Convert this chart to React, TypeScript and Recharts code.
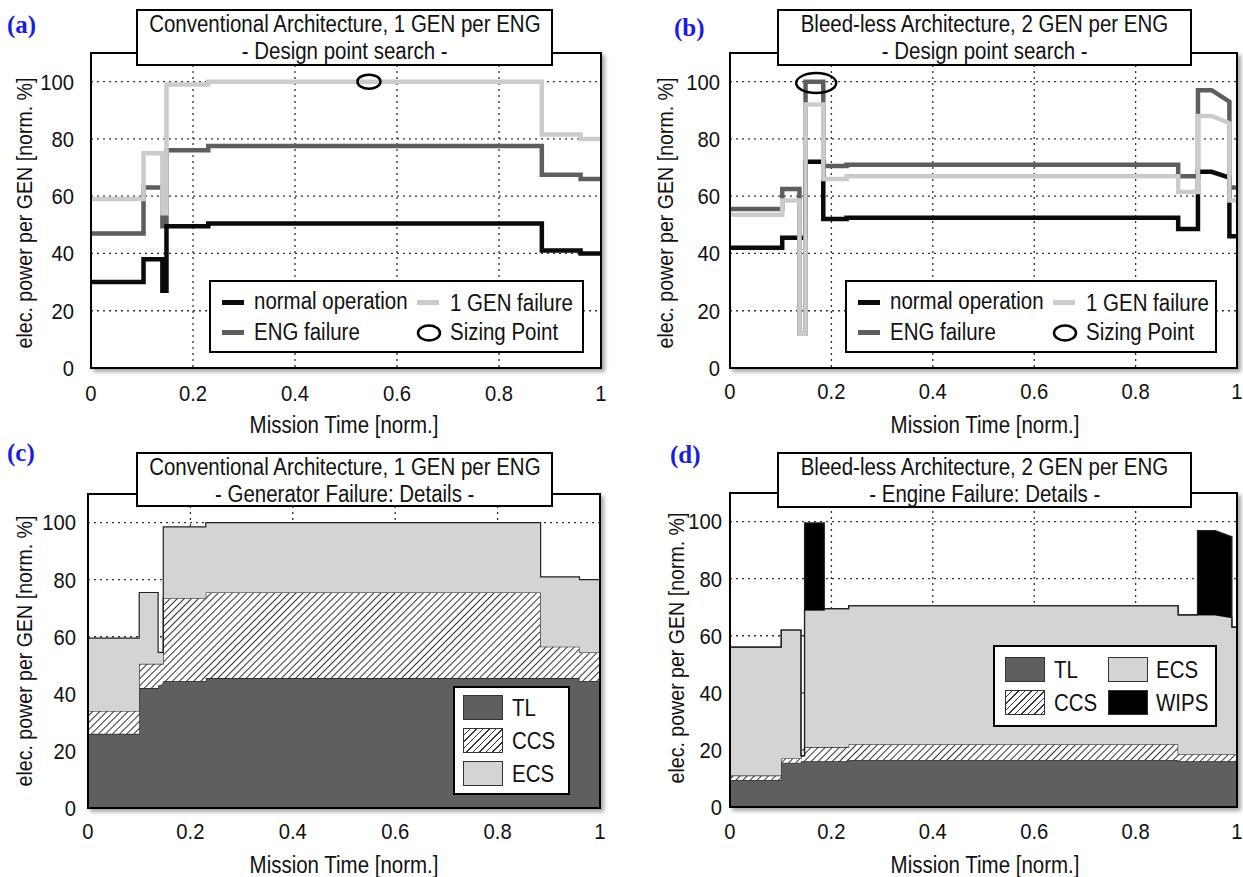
import { Area, CartesianGrid, ComposedChart, Line, Scatter, XAxis, YAxis } from "recharts";

type Seg = number | [number, number];

// (a) conventional architecture, design point search
const aX = [0, 0.103, 0.14, 0.148, 0.23, 0.884, 0.96, 1];
const aNormal: Seg[] = [30, 38, 27, 49.5, 50.5, 41, 40];
const aGen: Seg[] = [59, 75, 54, 99, 100, 81.5, 80];
const aEng: Seg[] = [47, 63, 49.5, 76, 77.5, 67.5, 66];
const aSizing = [{ x: 0.545, y: 100 }];

// (b) bleed-less architecture, design point search
const bX = [0, 0.103, 0.137, 0.149, 0.184, 0.23, 0.884, 0.923, 0.95, 0.985, 1];
const bNormal: Seg[] = [42, 45.5, 45.5, 72, 52, 52.5, 48.5, 68.5, [68.5, 66.5], 46];
const bGen: Seg[] = [53.5, 58.5, 12, 92, 66, 67, 61.5, 88, [88, 85.5], 58.5];
const bEng: Seg[] = [55.5, 62.5, 12, 100, 70.5, 71, 67, 97, [97, 93], 63];
const bSizing = [{ x: 0.17, y: 99.5 }];

// (c) conventional, generator failure breakdown (stacked)
const cX = [0, 0.1, 0.137, 0.147, 0.23, 0.884, 0.96, 1];
const cTL: Seg[] = [26, 42, 43, 44.5, 45.5, 45.5, 44.5];
const cCCS: Seg[] = [8, 8.5, 7.5, 29, 30, 11, 10];
const cECS: Seg[] = [25.5, 25, 4, 25, 24.5, 24.5, 25.5];

// (d) bleed-less, engine failure breakdown (stacked)
const dX = [0, 0.101, 0.14, 0.147, 0.186, 0.234, 0.884, 0.922, 0.957, 0.99, 1];
const dTL: Seg[] = [9.5, 15.5, 16, 16, 16, 16.5, 16, 16, 16, 16];
const dCCS: Seg[] = [1.5, 1.5, 2, 5, 5, 5.5, 2.5, 2.5, 2.5, 2.5];
const dECS: Seg[] = [45, 45, 0, 48, 48.5, 48.5, 48.8, 48.8, [48.8, 47.8], 44.5];
const dWIPS: Seg[] = [0, 0, 0, 30.5, 0, 0, 0, 29.5, [29.5, 28.4], 0];

const xTicks = [0, 0.2, 0.4, 0.6, 0.8, 1];
const yTicks = [0, 20, 40, 60, 80, 100];

const FONT = "'Liberation Sans', Arial, sans-serif";
const INK = "#111";
const C_NORMAL = "#0a0a0a";
const C_ENG = "#5e5e5e";
const C_GEN = "#cbcbcb";
const C_TL = "#5f5f5f";
const C_ECS = "#d4d4d4";
const SQUEEZE = 0.89; // the original uses a condensed sans

// turn segment levels into rows; each segment gets a start and end row so steps come out vertical
function stepRows(xs: number[], series: Record<string, Seg[]>) {
  const rows: any[] = [];
  for (let i = 0; i < xs.length - 1; i++) {
    const a: any = { x: xs[i] };
    const b: any = { x: xs[i + 1] };
    for (const k of Object.keys(series)) {
      const s = series[k][i];
      a[k] = Array.isArray(s) ? s[0] : s;
      b[k] = Array.isArray(s) ? s[1] : s;
    }
    rows.push(a, b);
  }
  return rows;
}

const aRows = stepRows(aX, { normal: aNormal, gen: aGen, eng: aEng });
const bRows = stepRows(bX, { normal: bNormal, gen: bGen, eng: bEng });
const cRows = stepRows(cX, { tl: cTL, ccs: cCCS, ecs: cECS });
const dRows = stepRows(dX, { tl: dTL, ccs: dCCS, ecs: dECS, wips: dWIPS });

type Box = { cl: number; ct: number; cw: number; ch: number; px: number; py: number; pw: number; ph: number; yGap: number; xGap: number };

const A: Box = { cl: 0, ct: 0, cw: 620, ch: 440, px: 91, py: 53, pw: 510, ph: 315, yGap: 17, xGap: 17 };
const B: Box = { cl: 620, ct: 0, cw: 623, ch: 440, px: 730, py: 53, pw: 507, ph: 315, yGap: 10, xGap: 15 };
const C: Box = { cl: 0, ct: 440, cw: 620, ch: 437, px: 88, py: 494, pw: 512, ph: 314, yGap: 12, xGap: 15 };
const D: Box = { cl: 620, ct: 440, cw: 623, ch: 437, px: 730, py: 493, pw: 507, ph: 314, yGap: 8, xGap: 16 };

const YW = 60;

function margins(b: Box) {
  return { top: b.py - b.ct, left: b.px - b.cl - YW, right: b.cl + b.cw - (b.px + b.pw), bottom: 0 };
}

const XTick = (p: any) => (
  <text x={0} y={0} dy="0.72em" textAnchor="middle" fill={INK} fontSize={22} transform={`translate(${p.x},${p.y}) scale(0.92,1)`}>
    {p.payload.value}
  </text>
);

const YTick = (p: any) => (
  <text x={0} y={0} dy="0.36em" textAnchor="end" fill={INK} fontSize={22} transform={`translate(${p.x},${p.y}) scale(0.92,1)`}>
    {p.payload.value}
  </text>
);

function axes(b: Box) {
  return [
    <CartesianGrid key="g" strokeDasharray="2 4" stroke="#333" strokeWidth={1.3} />,
    <XAxis
      key="x"
      dataKey="x"
      type="number"
      domain={[0, 1]}
      ticks={xTicks}
      height={b.ct + b.ch - (b.py + b.ph)}
      axisLine={false}
      tickLine={false}
      tickSize={0}
      tickMargin={b.xGap}
      tick={XTick}
    />,
    <YAxis
      key="y"
      type="number"
      domain={[0, 110]}
      ticks={yTicks}
      width={YW}
      axisLine={false}
      tickLine={false}
      tickSize={0}
      tickMargin={b.yGap}
      tick={YTick}
    />,
  ];
}

const ellipse = (rx: number, ry: number) => (p: any) => (
  <ellipse cx={p.cx} cy={p.cy} rx={rx} ry={ry} fill="none" stroke="#000" strokeWidth={2.5} />
);

function LinePanel({ b, rows, sizing, rx, ry }: { b: Box; rows: any[]; sizing: any[]; rx: number; ry: number }) {
  return (
    <div style={{ position: "absolute", left: b.cl, top: b.ct }}>
      <ComposedChart width={b.cw} height={b.ch} data={rows} margin={margins(b)}>
        {axes(b)}
        <Line type="linear" dataKey="eng" stroke={C_ENG} strokeWidth={4.5} dot={false} isAnimationActive={false} />
        <Line type="linear" dataKey="normal" stroke={C_NORMAL} strokeWidth={4.5} dot={false} isAnimationActive={false} />
        <Line type="linear" dataKey="gen" stroke={C_GEN} strokeWidth={4.5} dot={false} isAnimationActive={false} />
        <Scatter data={sizing} dataKey="y" shape={ellipse(rx, ry)} isAnimationActive={false} />
      </ComposedChart>
    </div>
  );
}

function StackPanel({ b, rows, id, wips }: { b: Box; rows: any[]; id: string; wips?: boolean }) {
  return (
    <div style={{ position: "absolute", left: b.cl, top: b.ct }}>
      <ComposedChart width={b.cw} height={b.ch} data={rows} margin={margins(b)}>
        <defs>
          <pattern id={id} patternUnits="userSpaceOnUse" width={5} height={5} patternTransform="rotate(45)">
            <rect width={5} height={5} fill="#fff" />
            <line x1={2.5} y1={0} x2={2.5} y2={5} stroke="#333" strokeWidth={1} />
          </pattern>
        </defs>
        {axes(b)}
        <Area type="linear" dataKey="tl" stackId="s" fill={C_TL} fillOpacity={1} stroke="#222" strokeWidth={1.2} isAnimationActive={false} />
        <Area type="linear" dataKey="ccs" stackId="s" fill={`url(#${id})`} fillOpacity={1} stroke="#222" strokeWidth={1.2} isAnimationActive={false} />
        <Area type="linear" dataKey="ecs" stackId="s" fill={C_ECS} fillOpacity={1} stroke="#222" strokeWidth={1.2} isAnimationActive={false} />
        {wips && (
          <Area type="linear" dataKey="wips" stackId="s" fill="#000" fillOpacity={1} stroke="#222" strokeWidth={1.2} isAnimationActive={false} />
        )}
      </ComposedChart>
    </div>
  );
}

function Frame({ b }: { b: Box }) {
  return (
    <div
      style={{
        position: "absolute",
        left: b.px - 1,
        top: b.py - 1,
        width: b.pw + 2,
        height: b.ph + 2,
        border: "2px solid #000",
        boxSizing: "border-box",
        boxShadow: "3px 3px 4px rgba(0,0,0,0.35)",
        pointerEvents: "none",
      }}
    />
  );
}

const cond = (t: string, origin: string) => (
  <span style={{ display: "inline-block", flex: "none", transform: `scaleX(${SQUEEZE})`, transformOrigin: origin }}>{t}</span>
);

function Title({ left, top, width, height, lines }: { left: number; top: number; width: number; height: number; lines: string[] }) {
  return (
    <div
      style={{
        position: "absolute",
        left,
        top,
        width,
        height,
        border: "2px solid #000",
        boxSizing: "border-box",
        background: "#fff",
        fontSize: 23,
        color: INK,
      }}
    >
      {lines.map((t) => (
        <div key={t} style={{ height: 27, lineHeight: "27px", whiteSpace: "nowrap", display: "flex", justifyContent: "center" }}>
          {cond(t, "center")}
        </div>
      ))}
    </div>
  );
}

function Txt({ x, y, text, rotate, size = 23 }: { x: number; y: number; text: string; rotate?: boolean; size?: number }) {
  return (
    <div
      style={{
        position: "absolute",
        left: x,
        top: y,
        transform: `translate(-50%, -50%)${rotate ? " rotate(-90deg)" : ""} scaleX(${SQUEEZE})`,
        whiteSpace: "nowrap",
        fontSize: size,
        lineHeight: 1,
        color: INK,
      }}
    >
      {text}
    </div>
  );
}

function PanelTag({ x, y, tag }: { x: number; y: number; tag: string }) {
  return (
    <div
      style={{
        position: "absolute",
        left: x,
        top: y,
        transform: "translateY(-50%)",
        fontFamily: "'Liberation Serif', 'Times New Roman', serif",
        fontWeight: "bold",
        fontSize: 25,
        lineHeight: 1,
        color: "#1c1ce0",
      }}
    >
      {tag}
    </div>
  );
}

const legText = (left: number, cy: number, t: string) => (
  <div style={{ position: "absolute", left, top: cy - 12, height: 24, lineHeight: "24px", fontSize: 23, whiteSpace: "nowrap", color: INK }}>
    {cond(t, "left center")}
  </div>
);

function LineLegend({ left, top, width }: { left: number; top: number; width: number }) {
  const bar = (x: number, cy: number, c: string) => (
    <div style={{ position: "absolute", left: x, top: cy - 2.5, width: 22, height: 5, background: c }} />
  );
  return (
    <div style={{ position: "absolute", left, top, width, height: 73, border: "2px solid #000", boxSizing: "border-box", background: "#fff" }}>
      {bar(11, 20, C_NORMAL)}
      {legText(43, 19, "normal operation")}
      {bar(11, 50, C_ENG)}
      {legText(43, 50, "ENG failure")}
      {bar(206, 20, C_GEN)}
      {legText(239, 21, "1 GEN failure")}
      <svg style={{ position: "absolute", left: 204, top: 41 }} width={28} height={20}>
        <ellipse cx={14} cy={10} rx={11} ry={7.5} fill="none" stroke="#000" strokeWidth={2.5} />
      </svg>
      {legText(239, 50, "Sizing Point")}
    </div>
  );
}

const HATCH = "repeating-linear-gradient(135deg, #fff 0px, #fff 3.6px, #333 3.6px, #333 4.6px)";

function Swatch({ x, y, bg }: { x: number; y: number; bg: string }) {
  return (
    <div style={{ position: "absolute", left: x, top: y, width: 40, height: 25, background: bg, border: "1.5px solid #333", boxSizing: "border-box" }} />
  );
}

export default function App() {
  return (
    <div style={{ position: "absolute", left: 0, top: 0, width: 1243, height: 877, background: "#fff", fontFamily: FONT, overflow: "hidden" }}>
      <LinePanel b={A} rows={aRows} sizing={aSizing} rx={11.5} ry={7} />
      <LinePanel b={B} rows={bRows} sizing={bSizing} rx={20} ry={10} />
      <StackPanel b={C} rows={cRows} id="hatchC" />
      <StackPanel b={D} rows={dRows} id="hatchD" wips />

      <Frame b={A} />
      <Frame b={B} />
      <Frame b={C} />
      <Frame b={D} />

      <Title left={136} top={9} width={417} height={57} lines={["Conventional Architecture, 1 GEN per ENG", "- Design point search -"]} />
      <Title left={777} top={9} width={415} height={57} lines={["Bleed-less Architecture, 2 GEN per ENG", "- Design point search -"]} />
      <Title left={136} top={452} width={417} height={55} lines={["Conventional Architecture, 1 GEN per ENG", "- Generator Failure: Details -"]} />
      <Title left={777} top={452} width={415} height={56} lines={["Bleed-less Architecture, 2 GEN per ENG", "- Engine Failure: Details -"]} />

      <PanelTag x={7} y={24} tag="(a)" />
      <PanelTag x={674} y={27} tag="(b)" />
      <PanelTag x={7} y={452} tag="(c)" />
      <PanelTag x={670} y={454} tag="(d)" />

      <Txt x={343.5} y={425} text="Mission Time [norm.]" />
      <Txt x={984.5} y={425} text="Mission Time [norm.]" />
      <Txt x={343.5} y={865} text="Mission Time [norm.]" />
      <Txt x={984.5} y={865} text="Mission Time [norm.]" />

      <Txt x={25} y={212.5} text="elec. power per GEN [norm. %]" rotate size={22} />
      <Txt x={666} y={212.5} text="elec. power per GEN [norm. %]" rotate size={22} />
      <Txt x={25} y={651} text="elec. power per GEN [norm. %]" rotate size={22} />
      <Txt x={677} y={647.5} text="elec. power per GEN [norm. %]" rotate size={22} />

      <LineLegend left={209} top={280} width={375} />
      <LineLegend left={845} top={280} width={372} />

      <div style={{ position: "absolute", left: 453, top: 686, width: 117, height: 109, border: "2px solid #000", boxSizing: "border-box", background: "#fff" }}>
        <Swatch x={8} y={7} bg={C_TL} />
        <Swatch x={8} y={40} bg={HATCH} />
        <Swatch x={8} y={73} bg={C_ECS} />
        {legText(57, 19.5, "TL")}
        {legText(57, 52.5, "CCS")}
        {legText(57, 85.5, "ECS")}
      </div>

      <div style={{ position: "absolute", left: 993, top: 645, width: 224, height: 82, border: "2px solid #000", boxSizing: "border-box", background: "#fff" }}>
        <Swatch x={10} y={10} bg={C_TL} />
        <Swatch x={10} y={43} bg={HATCH} />
        <Swatch x={113} y={10} bg={C_ECS} />
        <Swatch x={113} y={43} bg="#000" />
        {legText(59, 22.5, "TL")}
        {legText(59, 55.5, "CCS")}
        {legText(161, 22.5, "ECS")}
        {legText(161, 55.5, "WIPS")}
      </div>
    </div>
  );
}
